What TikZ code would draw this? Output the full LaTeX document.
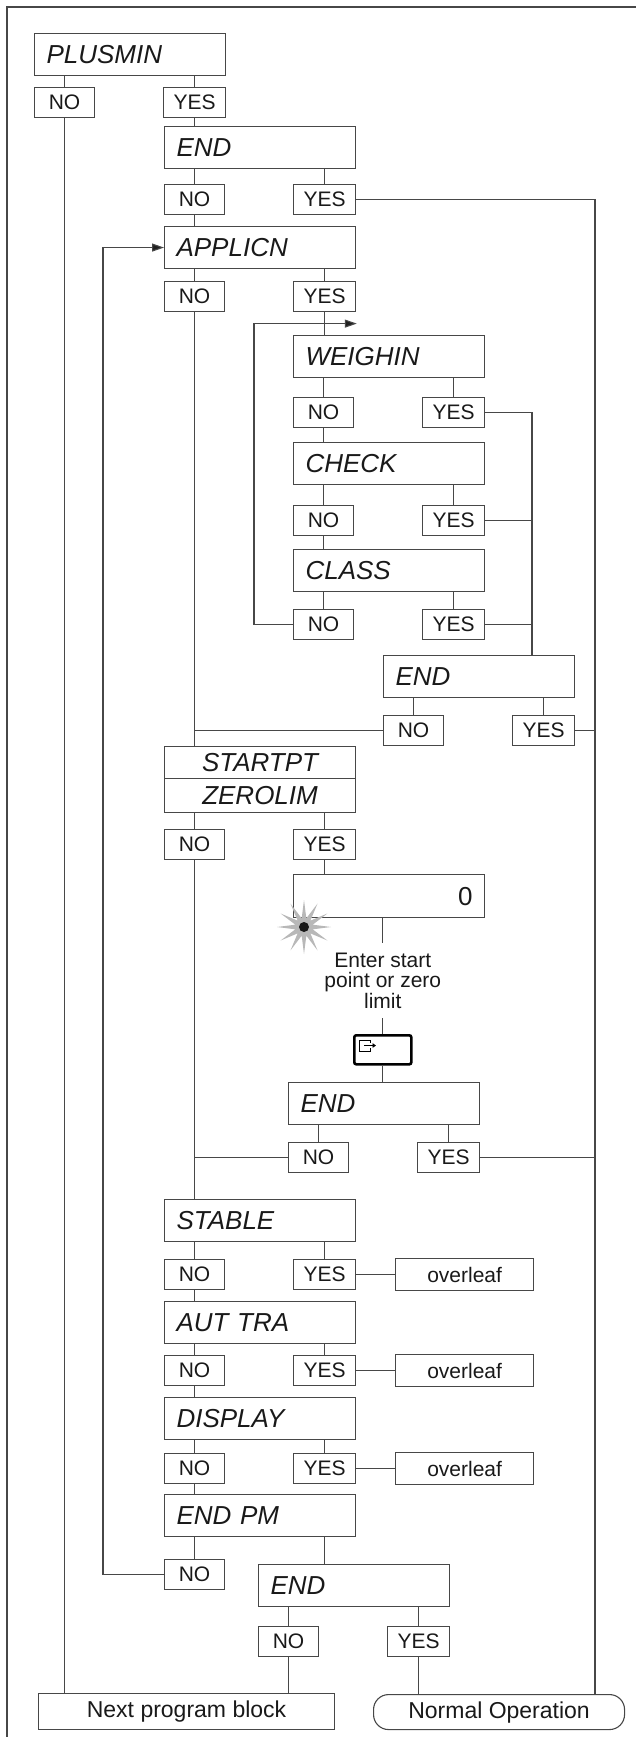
\documentclass[tikz,border=0pt]{standalone}
\usepackage{fontspec}
\setmainfont{Liberation Sans}
\usetikzlibrary{positioning,calc,shapes.geometric,arrows.meta}

\newcommand{\stepfont}{\fontsize{26}{30}\selectfont}
\newcommand{\choicefont}{\fontsize{21}{20.5}\selectfont}
\newcommand{\exitfont}{\fontsize{23}{26}\selectfont}

\begin{document}
\begin{tikzpicture}[x=1pt,y=-1pt,line width=1.1pt,color=black!72]
  \useasboundingbox (0,0) rectangle (636,1737);
  % frame
  \draw [line width=2pt] (636,7) -- (7,7) -- (7,1737);
  \coordinate (rtrack) at (595,0);
  \coordinate (ytrack) at (532,0);
  \begin{scope}[
    every node/.style={
      rectangle,
      draw,
      text=black!90,
      inner sep=0pt,
    },
    stepbox/.style={
      minimum width=191pt,
      minimum height=42pt,
      text width=167pt,
      inner xsep=12pt,
      align=left,
      font=\stepfont\itshape,
    },
    nobox/.style={
      minimum width=60pt,
      minimum height=30pt,
      font=\choicefont,
    },
    yesbox/.style={
      minimum width=62pt,
      minimum height=30pt,
      font=\choicefont,
    },
    leafbox/.style={
      minimum width=138pt,
      minimum height=32pt,
      font=\choicefont,
    },
    setanchor/.style={
      anchor=north west,
    },
    setanchorright/.style={
      anchor=north east,
    },
    ]
    % PLUSMIN
    \node [stepbox,setanchor] (PM) at (34,33) {PLUSMIN};
    \node [nobox,below=11pt of PM.south west,setanchor] (PMno) {NO};
    \node [yesbox,below=11pt of PM.south east,setanchorright] (PMyes) {YES};

    % END
    \node [stepbox,setanchor] (E1) at (164,126) {END};
    \node [nobox,below=15pt of E1.south west,setanchor] (E1no) {NO};
    \node [yesbox,below=15pt of E1.south east,setanchorright] (E1yes) {YES};

    % APPLICN
    \node [stepbox,setanchor] (AP) at (164,226) {APPLICN};
    \node [nobox,below=12pt of AP.south west,setanchor] (APno) {NO};
    \node [yesbox,below=12pt of AP.south east,setanchorright] (APyes) {YES};

    % WEIGHIN
    \node [stepbox,setanchor] (WI) at (293,335) {WEIGHIN};
    \node [nobox,below=19pt of WI.south west,setanchor] (WIno) {NO};
    \node [yesbox,below=19pt of WI.south east,setanchorright] (WIyes) {YES};

    % CHECK
    \node [stepbox,setanchor] (CH) at (293,442) {CHECK};
    \node [nobox,below=20pt of CH.south west,setanchor] (CHno) {NO};
    \node [yesbox,below=20pt of CH.south east,setanchorright] (CHyes) {YES};

    % CLASS
    \node [stepbox,setanchor] (CL) at (293,549) {CLASS};
    \node [nobox,below=17pt of CL.south west,setanchor] (CLno) {NO};
    \node [yesbox,below=17pt of CL.south east,setanchorright] (CLyes) {YES};

    % END after CLASS
    \node [stepbox,setanchor] (E2) at (383,655) {END};
    \node [nobox,below=17pt of E2.south west,setanchor] (E2no) {NO};
    \node [yesbox,below=17pt of E2.south east,setanchorright] (E2yes) {YES};

    % STARTPT / ZEROLIM
    \node [stepbox,align=center,minimum height=32pt,setanchor] (SP) at (164,746) {STARTPT};
    \node [stepbox,align=center,minimum height=34pt,setanchor] (ZL) at (164,778) {ZEROLIM};
    \node [nobox,below=16pt of ZL.south west,setanchor] (SPno) {NO};
    \node [yesbox,below=16pt of ZL.south east,setanchorright] (SPyes) {YES};

    % display and key
    \node [stepbox,align=right,font=\stepfont,minimum height=43pt,setanchor] (ZD) at (293,874) {0};
    \node [draw=black,line width=2.6pt,rounded corners=2pt,minimum width=57pt,minimum height=29pt,setanchor] (KEY) at (353,1034) {};
    \node [draw=none,align=center,font=\choicefont,inner ysep=9pt,above=16pt of KEY] (ENTER) {Enter start\\point or zero\\limit};

    % END after STARTPT
    \node [stepbox,setanchor] (E4) at (288,1082) {END};
    \node [nobox,below=17pt of E4.south west,setanchor] (E4no) {NO};
    \node [yesbox,below=17pt of E4.south east,setanchorright] (E4yes) {YES};

    % STABLE
    \node [stepbox,setanchor] (ST) at (164,1199) {STABLE};
    \node [nobox,below=17pt of ST.south west,setanchor] (STno) {NO};
    \node [yesbox,below=17pt of ST.south east,setanchorright] (STyes) {YES};
    \node [leafbox,right=39pt of STyes] (STleaf) {overleaf};

    % AUT TRA
    \node [stepbox,setanchor] (AT) at (164,1301) {AUT TRA};
    \node [nobox,below=11pt of AT.south west,setanchor] (ATno) {NO};
    \node [yesbox,below=11pt of AT.south east,setanchorright] (ATyes) {YES};
    \node [leafbox,right=39pt of ATyes] (ATleaf) {overleaf};

    % DISPLAY
    \node [stepbox,setanchor] (DI) at (164,1397) {DISPLAY};
    \node [nobox,below=13pt of DI.south west,setanchor] (DIno) {NO};
    \node [yesbox,below=13pt of DI.south east,setanchorright] (DIyes) {YES};
    \node [leafbox,right=39pt of DIyes] (DIleaf) {overleaf};

    % END PM
    \node [stepbox,setanchor] (EP) at (164,1494) {END PM};
    \node [nobox,below=22pt of EP.south west,setanchor] (EPno) {NO};

    % END after END PM
    \node [stepbox,setanchor] (E3) at (258,1564) {END};
    \node [nobox,below=19pt of E3.south west,setanchor] (E3no) {NO};
    \node [yesbox,below=19pt of E3.south east,setanchorright] (E3yes) {YES};

    % exits
    \node [font=\exitfont,minimum width=296pt,minimum height=36pt,setanchor] (NPB) at (38,1693) {Next program block};
    \node [font=\exitfont,rounded corners=15pt,minimum width=251pt,minimum height=35pt,setanchor] (NOP) at (373,1694) {Normal Operation};
  \end{scope}
  \begin{scope}[
    myarrow/.style={
      -{Triangle[length=12pt,width=8pt,fill=black!88]},
    },
    ]
    % Path PM
    \draw (PMno.north) -- (PMno.north |- PM.south);
    \draw (PMyes.north) -- (PMyes.north |- PM.south);
    \draw (PMno.south) -- (PMno.south |- NPB.north);
    \draw (PMyes.south) -- (PMyes.south |- E1.north);

    % Path E1
    \draw (E1no.north) -- (E1no.north |- E1.south);
    \draw (E1yes.north) -- (E1yes.north |- E1.south);
    \draw (E1yes.east) -| (rtrack |- NOP.north);
    \draw (E1no.south) -- (E1no.south |- AP.north);

    % Path AP
    \draw (APno.north) -- (APno.north |- AP.south);
    \draw (APyes.north) -- (APyes.north |- AP.south);
    \draw (APno.south) -- (APno.south |- SP.north);
    \draw (APyes.south) -- (APyes.south |- WI.north);

    % Path WI
    \draw (WIno.north) -- (WIno.north |- WI.south);
    \draw (WIyes.north) -- (WIyes.north |- WI.south);
    \draw (WIno.south) -- (WIno.south |- CH.north);
    \draw (WIyes.east) -| (ytrack |- E2.north);

    % Path CH
    \draw (CHno.north) -- (CHno.north |- CH.south);
    \draw (CHyes.north) -- (CHyes.north |- CH.south);
    \draw (CHno.south) -- (CHno.south |- CL.north);
    \draw (CHyes.east) -- (CHyes.east -| ytrack);

    % Path CL
    \draw (CLno.north) -- (CLno.north |- CL.south);
    \draw (CLyes.north) -- (CLyes.north |- CL.south);
    \draw (CLyes.east) -- (CLyes.east -| ytrack);
    \draw [myarrow] (CLno.west) -- ++(-39,0) |- ($(APyes.south)!0.5!(WI.north)$);

    % Path E2
    \draw (E2no.north) -- (E2no.north |- E2.south);
    \draw (E2yes.north) -- (E2yes.north |- E2.south);
    \draw (E2yes.east) -- (E2yes.east -| rtrack);
    \draw (E2no.west) -- (E2no.west -| APno.south);

    % Path SP
    \draw (SPno.north) -- (SPno.north |- ZL.south);
    \draw (SPyes.north) -- (SPyes.north |- ZL.south);
    \draw (SPno.south) -- (SPno.south |- ST.north);
    \draw (SPyes.south) -- (SPyes.south |- ZD.north);
    \draw (ZD.south -| ENTER.north) -- (ENTER.north);
    \draw (ENTER.south) -- (KEY.north);
    \draw (KEY.south) -- (KEY.south |- E4.north);
    % flashing cursor
    \node [star,star points=12,star point ratio=3,minimum size=54pt,inner sep=0pt,fill=black!28] (blink) at (304,927) {};
    \node [circle,fill=black!90,minimum size=10pt,inner sep=0pt] (dot) at (blink) {};
    % key symbol
    \draw [line width=0.9pt,black] ($(KEY.north west)+(17,9)$) -- ++(0,-3) -- ++(-11,0) -- ++(0,11) -- ++(11,0) -- ++(0,-3);
    \draw [line width=0.9pt,black,-{Triangle[length=3.5pt,width=4.5pt]}] ($(KEY.north west)+(11,11.5)$) -- ++(12,0);

    % Path E4
    \draw (E4no.north) -- (E4no.north |- E4.south);
    \draw (E4yes.north) -- (E4yes.north |- E4.south);
    \draw (E4yes.east) -- (E4yes.east -| rtrack);
    \draw (E4no.west) -- (E4no.west -| APno.south);

    % Path ST
    \draw (STno.north) -- (STno.north |- ST.south);
    \draw (STyes.north) -- (STyes.north |- ST.south);
    \draw (STyes.east) -- (STleaf.west);
    \draw (STno.south) -- (STno.south |- AT.north);

    % Path AT
    \draw (ATno.north) -- (ATno.north |- AT.south);
    \draw (ATyes.north) -- (ATyes.north |- AT.south);
    \draw (ATyes.east) -- (ATleaf.west);
    \draw (ATno.south) -- (ATno.south |- DI.north);

    % Path DI
    \draw (DIno.north) -- (DIno.north |- DI.south);
    \draw (DIyes.north) -- (DIyes.north |- DI.south);
    \draw (DIyes.east) -- (DIleaf.west);
    \draw (DIno.south) -- (DIno.south |- EP.north);

    % Path EP
    \draw (EPno.north) -- (EPno.north |- EP.south);
    \draw (EP.south -| DIyes) -- (DIyes |- E3.north);
    \draw [myarrow] (EPno.west) -- ++(-61,0) |- (AP.west);

    % Path E3
    \draw (E3no.north) -- (E3no.north |- E3.south);
    \draw (E3yes.north) -- (E3yes.north |- E3.south);
    \draw (E3no.south) -- (E3no.south |- NPB.north);
    \draw (E3yes.south) -- (E3yes.south |- NOP.north);
  \end{scope}
\end{tikzpicture}
\end{document}
